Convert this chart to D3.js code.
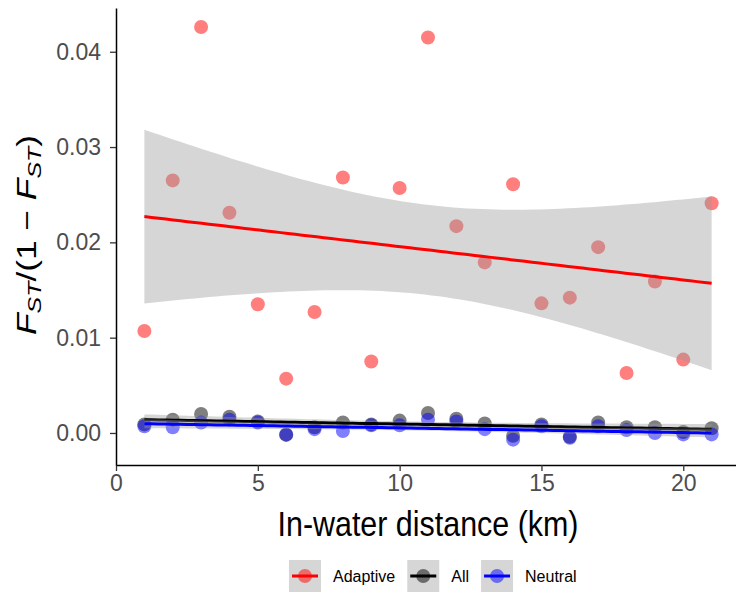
<!DOCTYPE html>
<html>
<head>
<meta charset="utf-8">
<script src="https://cdn.jsdelivr.net/npm/d3@7"></script>
<style>
  body { margin: 0; background: #fff; }
  svg { font-family: "Liberation Sans", Arial, sans-serif; }
</style>
</head>
<body>
<svg width="736" height="596"></svg>
<script>
// distances between sites (km) and FST/(1-FST) per locus set
const distanceKm = [1, 2, 3, 4, 5, 6, 7, 8, 9, 10, 11, 12, 13, 14, 15, 16, 17, 18, 19, 20, 21];
const adaptive = [0.0107, 0.0265, 0.0426, 0.0231, 0.0135, 0.0057, 0.0127, 0.0268, 0.0075, 0.0257, 0.0415,
  0.0217, 0.0179, 0.0261, 0.0136, 0.0142, 0.0195, 0.0063, 0.0159, 0.0077, 0.0241];
const allLoci = [0.0009, 0.0014, 0.0020, 0.0017, 0.0012, -0.0002, 0.0006, 0.0011, 0.0009, 0.0013, 0.0021,
  0.0015, 0.0010, -0.0003, 0.0009, -0.0004, 0.0011, 0.0006, 0.0006, 0.0001, 0.0005];
const neutral = [0.0007, 0.0006, 0.0011, 0.0014, 0.0011, -0.00015, 0.0004, 0.0002, 0.0008, 0.0008, 0.0014,
  0.0012, 0.0004, -0.0007, 0.0007, -0.0005, 0.0007, 0.0003, 0.0000, -0.00015, -0.00015];

const groupNames = ['Adaptive', 'All', 'Neutral'];
const groupColors = ['#ff0000', '#000000', '#0000ff'];
const xTicks = [0, 5, 10, 15, 20];
const yTicks = [0, 0.01, 0.02, 0.03, 0.04];

const groups = [adaptive, allLoci, neutral].map((vals, i) => ({
  name: groupNames[i], color: groupColors[i],
  points: vals.map((v, j) => ({ x: distanceKm[j], y: v }))
}));

const svg = d3.select('svg');
const x = d3.scaleLinear().domain([0, 22]).range([116, 740]);
const y = d3.scaleLinear().domain([-0.00336, 0.04459]).range([465, 8]);

// linear model with 95% confidence band, like geom_smooth(method = "lm")
function lmFit(pts) {
  const n = pts.length;
  const mx = d3.mean(pts, d => d.x), my = d3.mean(pts, d => d.y);
  const sxx = d3.sum(pts, d => (d.x - mx) ** 2);
  const b = d3.sum(pts, d => (d.x - mx) * (d.y - my)) / sxx;
  const a = my - b * mx;
  const s = Math.sqrt(d3.sum(pts, d => (d.y - a - b * d.x) ** 2) / (n - 2));
  const t = 2.093; // qt(0.975, 19)
  const [lo, hi] = d3.extent(pts, d => d.x);
  return d3.range(80).map(k => {
    const xv = lo + (hi - lo) * k / 79;
    const fit = a + b * xv;
    const se = s * Math.sqrt(1 / n + (xv - mx) ** 2 / sxx);
    return { x: xv, fit, lo: fit - t * se, hi: fit + t * se };
  });
}

const plot = svg.append('g');

groups.forEach(g => {
  plot.append('g').selectAll('circle')
    .data(g.points)
    .join('circle')
    .attr('cx', d => x(d.x))
    .attr('cy', d => y(d.y))
    .attr('r', 7)
    .attr('fill', g.color)
    .attr('fill-opacity', 0.5);
});

groups.forEach(g => {
  const fit = lmFit(g.points);
  plot.append('path')
    .datum(fit)
    .attr('fill', '#999999')
    .attr('fill-opacity', 0.4)
    .attr('d', d3.area().x(d => x(d.x)).y0(d => y(d.lo)).y1(d => y(d.hi)));
  plot.append('path')
    .datum(fit)
    .attr('fill', 'none')
    .attr('stroke', g.color)
    .attr('stroke-width', 3)
    .attr('d', d3.line().x(d => x(d.x)).y(d => y(d.fit)));
});

// axes
const xAxis = svg.append('g')
  .attr('transform', 'translate(0,465)')
  .call(d3.axisBottom(x).tickValues(xTicks).tickSize(6).tickPadding(4).tickSizeOuter(0));
const yAxis = svg.append('g')
  .attr('transform', 'translate(116,0)')
  .call(d3.axisLeft(y).tickValues(yTicks).tickFormat(d3.format('.2f')).tickSize(6).tickPadding(9).tickSizeOuter(0));

[xAxis, yAxis].forEach(ax => {
  ax.select('.domain').attr('stroke', '#000').attr('stroke-width', 1.5);
  ax.selectAll('.tick line').attr('stroke', '#333').attr('stroke-width', 1.3);
  ax.selectAll('.tick text')
    .attr('fill', '#4d4d4d')
    .style('font-size', '23px')
    .style('font-family', '"Liberation Sans", Arial, sans-serif');
});

// axis titles
svg.append('text')
  .attr('x', 428).attr('y', 536)
  .attr('text-anchor', 'middle')
  .attr('textLength', 301)
  .attr('lengthAdjust', 'spacingAndGlyphs')
  .style('font-size', '35px')
  .text('In-water distance (km)');

const yt = svg.append('text')
  .attr('transform', 'translate(36,235) rotate(-90)')
  .attr('text-anchor', 'middle')
  .attr('textLength', 200)
  .attr('lengthAdjust', 'spacingAndGlyphs')
  .style('font-size', '27px');
yt.append('tspan').attr('font-style', 'italic').text('F');
yt.append('tspan').attr('font-style', 'italic').attr('font-size', 19).attr('dy', 5).text('ST');
yt.append('tspan').attr('dy', -5).text('/(1 \u2212 ');
yt.append('tspan').attr('font-style', 'italic').text('F');
yt.append('tspan').attr('font-style', 'italic').attr('font-size', 19).attr('dy', 5).text('ST');
yt.append('tspan').attr('dy', -5).text(')');

// legend
const legend = svg.append('g').attr('transform', 'translate(289,560)');
let lx = 0;
groups.forEach(g => {
  const item = legend.append('g').attr('transform', `translate(${lx},0)`);
  item.append('rect').attr('width', 32).attr('height', 32).attr('fill', '#999999').attr('fill-opacity', 0.4);
  item.append('line').attr('x1', 3).attr('x2', 29).attr('y1', 16).attr('y2', 16)
    .attr('stroke', g.color).attr('stroke-width', 3);
  item.append('circle').attr('cx', 16).attr('cy', 16).attr('r', 7)
    .attr('fill', g.color).attr('fill-opacity', 0.5);
  const label = item.append('text').attr('x', 44).attr('y', 22)
    .style('font-size', '16px').text(g.name);
  lx += 44 + label.node().getComputedTextLength() + 12;
});
</script>
</body>
</html>
